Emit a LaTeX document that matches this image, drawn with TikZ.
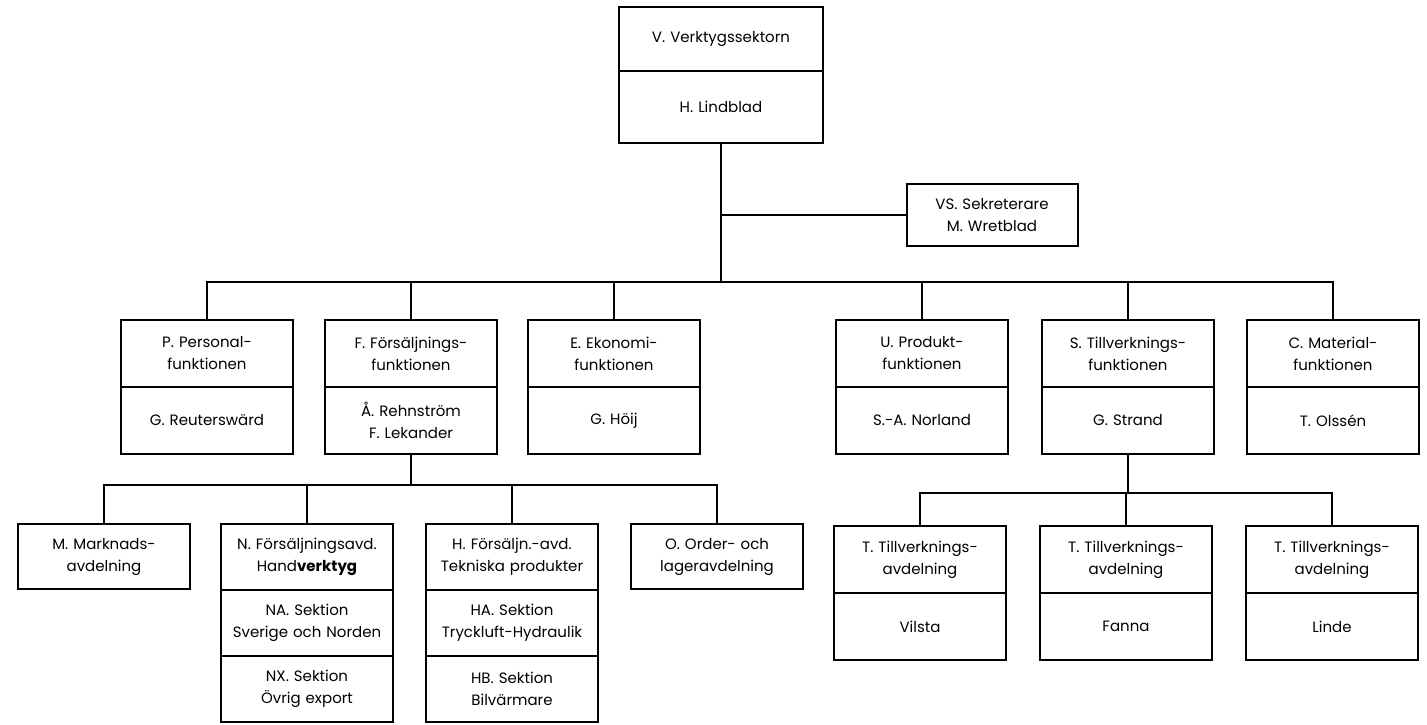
\documentclass[tikz,border=0pt]{standalone}
\usepackage{fontspec}
\setmainfont{Poppins}
\usepackage{tikz}
\usetikzlibrary{positioning}
\tikzset{x=1pt,y=-1pt}
\tikzset{
    box/.style={draw, line width=2pt, inner sep=0pt, outer sep=0pt,
        text width=172pt, align=center, font=\fontsize{15}{22}\selectfont},
    headbox/.style={box, minimum height=67pt, anchor=north},
    namebox/.style={box, minimum height=67pt},
    secbox/.style={box, minimum height=66pt},
    link/.style={line width=2pt}
}

\begin{document}
\begin{tikzpicture}
    \useasboundingbox (0,0) rectangle (1427,724);
    \node[headbox, text width=204pt, minimum height=64pt] (vsek) at (721,7) {V. Verktygssektorn};
    \node[namebox, text width=204pt, minimum height=72pt] (vsekn) [below=0pt of vsek] {H. Lindblad};
    \node[box, text width=171pt, minimum height=62pt] (sekr) at (992,215) {VS. Sekreterare\\M. Wretblad};

    \node[headbox] (pers) at (207,320) {P. Personal-\\funktionen};
    \node[namebox] (persn) [below=0pt of pers] {G. Reuterswärd};
    \node[headbox] (fors) at (411,320) {F. Försäljnings-\\funktionen};
    \node[namebox] (forsn) [below=0pt of fors] {Å. Rehnström\\F. Lekander};
    \node[headbox] (ekon) at (614,320) {E. Ekonomi-\\funktionen};
    \node[namebox] (ekonn) [below=0pt of ekon] {G. Höij};
    \node[headbox] (prod) at (922,320) {U. Produkt-\\funktionen};
    \node[namebox] (prodn) [below=0pt of prod] {S.-A. Norland};
    \node[headbox] (tillv) at (1128,320) {S. Tillverknings-\\funktionen};
    \node[namebox] (tillvn) [below=0pt of tillv] {G. Strand};
    \node[headbox] (mat) at (1333,320) {C. Material-\\funktionen};
    \node[namebox] (matn) [below=0pt of mat] {T. Olssén};

    \node[headbox, minimum height=65pt] (mark) at (104,524) {M. Marknads-\\avdelning};
    \node[headbox, minimum height=66pt] (hand) at (307,524) {N. Försäljningsavd.\\Hand\textbf{verktyg}};
    \node[secbox] (handa) [below=0pt of hand] {NA. Sektion\\Sverige och Norden};
    \node[secbox] (handx) [below=0pt of handa] {NX. Sektion\\Övrig export};
    \node[headbox, minimum height=66pt] (tekn) at (512,524) {H. Försäljn.-avd.\\Tekniska produkter};
    \node[secbox] (tekna) [below=0pt of tekn] {HA. Sektion\\Tryckluft-Hydraulik};
    \node[secbox] (teknb) [below=0pt of tekna] {HB. Sektion\\Bilvärmare};
    \node[headbox, minimum height=65pt] (order) at (717,524) {O. Order- och\\lageravdelning};

    \node[headbox] (tv1) at (920,526) {T. Tillverknings-\\avdelning};
    \node[namebox] (tv1n) [below=0pt of tv1] {Vilsta};
    \node[headbox] (tv2) at (1126,526) {T. Tillverknings-\\avdelning};
    \node[namebox] (tv2n) [below=0pt of tv2] {Fanna};
    \node[headbox] (tv3) at (1332,526) {T. Tillverknings-\\avdelning};
    \node[namebox] (tv3n) [below=0pt of tv3] {Linde};

    \coordinate (bus) at (721,282);
    \path (forsn.south) ++(0,31) coordinate (fbus);
    \path (tillvn.south) ++(0,39) coordinate (sbus);

    \draw[link] (vsekn.south) -- (bus);
    \draw[link] (vsekn.south |- sekr.west) -- (sekr.west);
    \draw[link] (pers.north) -- (pers.north |- bus) -- (mat.north |- bus) -- (mat.north);
    \foreach \n in {fors,ekon,prod,tillv}
        \draw[link] (\n.north) -- (\n.north |- bus);

    \draw[link] (forsn.south) -- (fbus);
    \draw[link] (mark.north) -- (mark.north |- fbus) -- (order.north |- fbus) -- (order.north);
    \foreach \n in {hand,tekn}
        \draw[link] (\n.north) -- (\n.north |- fbus);

    \draw[link] (tillvn.south) -- (sbus);
    \draw[link] (tv1.north) -- (tv1.north |- sbus) -- (tv3.north |- sbus) -- (tv3.north);
    \draw[link] (tv2.north) -- (tv2.north |- sbus);
\end{tikzpicture}
\end{document}
